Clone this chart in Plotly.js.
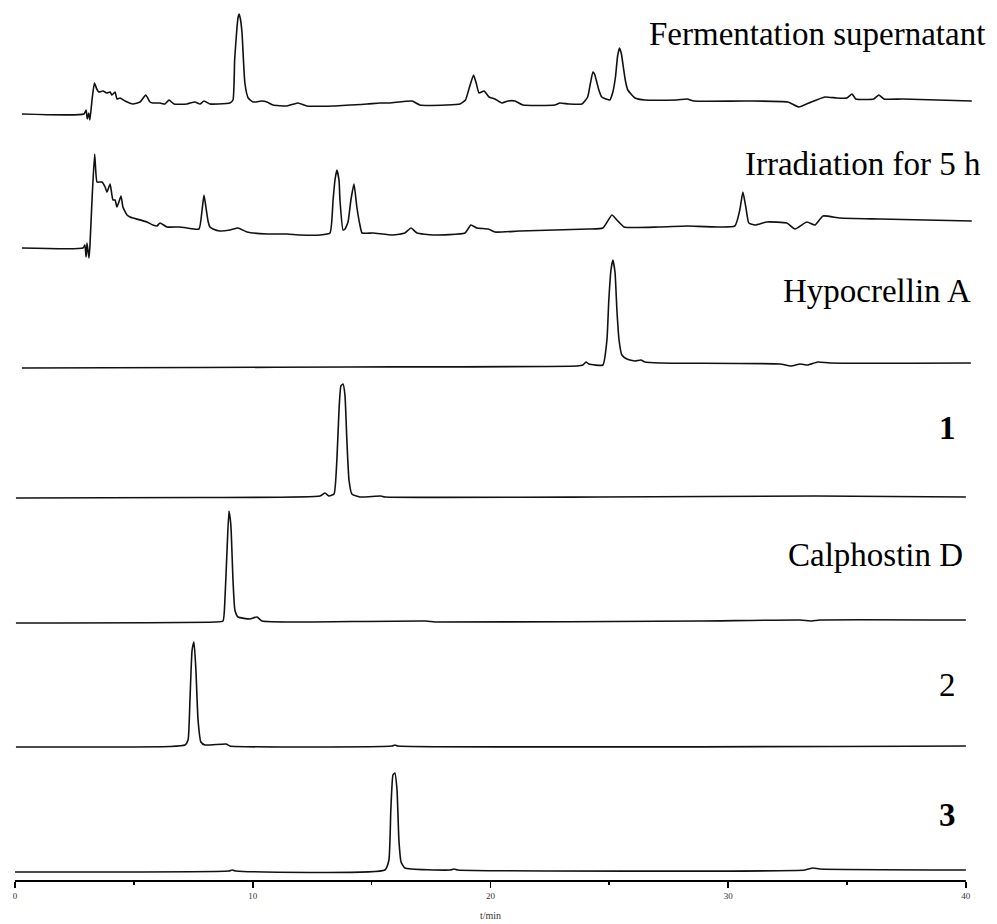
<!DOCTYPE html>
<html>
<head>
<meta charset="utf-8">
<script src="https://cdn.plot.ly/plotly-3.0.1.min.js"></script>
<style>
html,body{margin:0;padding:0;background:#fff;}
#chart{width:997px;height:924px;}
</style>
</head>
<body>
<div id="chart"></div>
<script>
// ---------- DATA (retention time in min, detector signal in arbitrary units) ----------
const seriesLabels = ["Fermentation supernatant", "Irradiation for 5 h", "Hypocrellin A", "1", "Calphostin D", "2", "3"];
const seriesBold = [false, false, false, true, false, false, true];

const fermentTime = [0.29,2.90,2.99,3.04,3.10,3.15,3.24,3.34,3.44,3.53,3.70,3.86,4.00,4.08,4.21,4.29,4.42,4.63,4.96,5.26,5.50,5.68,5.80,6.10,6.31,6.48,6.69,7.23,7.57,7.78,7.95,8.20,8.54,9.04,9.17,9.24,9.32,9.38,9.43,9.49,9.55,9.61,9.67,9.81,10.01,10.39,10.60,10.85,11.44,11.90,12.28,13.38,14.81,15.35,15.77,16.70,17.03,18.17,18.72,18.95,19.12,19.29,19.40,19.52,19.73,19.94,20.19,20.48,20.74,21.03,21.37,22.71,22.92,23.30,23.85,24.09,24.20,24.31,24.38,24.45,24.56,24.68,24.86,25.02,25.15,25.26,25.35,25.43,25.51,25.59,25.68,25.78,26.08,26.50,27.84,28.27,28.56,30.75,32.51,32.98,33.40,34.07,34.57,34.99,35.21,35.37,36.13,36.34,36.55,37.35,40.25];
const fermentSignal = [0,0,4,-5,1,-6,14,31,25,22,23,21,22,19,22,15,16,13,10,12,19,12,11,11,10,14,10,10,12,10,13,10,10,11,14,54,81,96,100,94,81,54,31,16,12,13,12,9,8,11,8,8,10,11,11,13,9,9,10,14,27,39,31,21,23,17,15,11,13,13,9,9,11,10,10,17,30,42,40,34,24,17,15,14,22,37,58,66,60,47,33,24,16,14,14,15,13,13,12,7,11,17,16,16,20,15,15,19,15,15,13];

const irradTime = [0.29,2.86,2.94,2.99,3.03,3.11,3.15,3.24,3.35,3.45,3.58,3.66,3.79,3.87,4.00,4.12,4.21,4.29,4.46,4.54,4.71,4.84,4.96,5.55,5.80,5.97,6.10,6.39,6.94,7.23,7.74,7.87,7.95,8.03,8.12,8.20,8.33,8.62,9.04,9.38,9.76,10.60,11.44,11.99,12.83,13.25,13.38,13.46,13.54,13.63,13.67,13.80,13.88,14.01,14.13,14.26,14.38,14.51,14.60,15.06,15.90,16.40,16.66,16.91,17.58,18.93,19.18,19.43,19.90,20.19,21.24,22.71,24.14,24.73,25.11,25.32,25.62,27.09,28.27,30.28,30.49,30.62,30.75,30.87,31.13,31.63,32.47,32.81,33.31,33.65,33.99,34.70,36.38,40.25];
const irradSignal = [0,0,3,-9,5,-10,1,48,94,66,66,66,61,56,64,48,48,41,52,41,33,31,30,26,23,22,25,21,21,20,19,38,53,41,27,21,19,17,18,20,16,14,14,13,13,15,48,68,78,68,48,18,19,26,48,64,41,23,15,15,13,15,20,15,13,15,23,20,19,16,17,18,19,20,33,28,21,21,22,22,38,56,40,25,23,26,25,19,26,23,32,30,29,27];

const hypoTime = [0.29,7.78,14.09,23.64,23.89,24.02,24.14,24.73,24.90,24.98,25.07,25.15,25.24,25.32,25.41,25.53,25.74,26.08,26.33,26.50,27.13,32.18,32.64,33.02,33.35,33.77,34.28,40.21];
const hypoSignal = [0,0.5,1,2,3,6,4,3,28,68,98,108,96,58,28,13,9,7,8,6,5,4,2,4,3,6,5,5];

const cmpd1Time = [0.04,7.78,12.83,13.04,13.21,13.42,13.54,13.63,13.71,13.80,13.88,13.96,14.05,14.17,14.51,15.39,15.56,24.61,33.65,40.0];
const cmpd1Signal = [0,0.5,2,5,2,4,38,88,112,114,103,58,18,4,1,2,1,1,2,1];

const calphTime = [0.04,8.41,8.75,8.83,8.92,9.00,9.08,9.17,9.25,9.38,9.88,10.18,10.39,11.99,17.29,17.67,28.81,33.02,33.52,33.86,40.0];
const calphSignal = [0,1,2,23,73,112,98,43,13,6,4,6,2,1,2,1,2,3,2,3,3];

const cmpd2Time = [0.04,6.52,7.15,7.28,7.36,7.45,7.53,7.61,7.70,7.82,7.99,8.88,9.04,15.86,15.98,16.11,40.0];
const cmpd2Signal = [0,0.5,2,7,47,97,105,77,27,5,2,3,1,1,2,1,1];

const cmpd3Time = [0,9.00,9.13,9.30,15.56,15.73,15.81,15.90,15.98,16.07,16.15,16.24,16.40,18.30,18.47,18.63,33.23,33.56,33.86,40.0];
const cmpd3Signal = [0,1,2,1,2,12,62,97,99,82,32,10,4,2,3,2,2,4,3,2];

const xTickValues = [0, 10, 20, 30, 40];
const xTickLabels = ["0", "10", "20", "30", "40"];
const xMinorTickValues = [5, 15, 25, 35];
const xAxisTitle = "t/min";

// ---------- LAYOUT (positions / sizes / styles) ----------
const W = 997, H = 924;
const M = {l: 15, r: 24, t: 0, b: 43};
const plotH = H - M.t - M.b;           // 881
const plotW = W - M.l - M.r;           // 958
const xRange = [0, 40.3];
const baselinePx = [114, 248, 368, 498, 623, 747, 872];   // where each trace's zero sits
const labelRightPx = [987, 983, 973, 958, 965, 958, 958];
const labelMidPx = [34, 164, 291, 428, 555, 685, 815];
const serif = "'Liberation Serif', 'Times New Roman', Times, serif";

const times = [fermentTime, irradTime, hypoTime, cmpd1Time, calphTime, cmpd2Time, cmpd3Time];
const signals = [fermentSignal, irradSignal, hypoSignal, cmpd1Signal, calphSignal, cmpd2Signal, cmpd3Signal];

const traces = [];
const layout = {
  width: W, height: H,
  margin: M,
  paper_bgcolor: "#fff", plot_bgcolor: "#fff",
  showlegend: false,
  font: {family: serif},
  xaxis: {
    range: xRange, showline: false, zeroline: false, showgrid: false,
    tickmode: "array", tickvals: xTickValues, ticktext: xTickLabels,
    ticks: "outside", ticklen: 6, tickwidth: 1.6, tickcolor: "#000",
    tickfont: {family: serif, size: 9, color: "#333"},
    minor: {tickmode: "array", tickvals: xMinorTickValues, ticks: "outside", ticklen: 3, tickwidth: 1.6, tickcolor: "#000", showgrid: false},
    fixedrange: true
  },
  shapes: [{type: "line", xref: "x", yref: "paper", x0: 0, x1: 40, y0: 0, y1: 0, line: {color: "#000", width: 2}}],
  annotations: []
};

for (let i = 0; i < times.length; i++) {
  const axName = i === 0 ? "yaxis" : "yaxis" + (i + 1);
  const axRef = i === 0 ? "y" : "y" + (i + 1);
  const b = baselinePx[i] - M.t;
  layout[axName] = {
    range: [b - plotH, b], visible: false, showgrid: false, zeroline: false, fixedrange: true
  };
  if (i > 0) layout[axName].overlaying = "y";
  traces.push({
    type: "scatter", mode: "lines", x: times[i], y: signals[i], yaxis: axRef,
    line: {color: "#111", width: 1.6, shape: "spline", smoothing: 0.45},
    hoverinfo: "skip", cliponaxis: false
  });
  layout.annotations.push({
    xref: "paper", yref: "paper",
    x: (labelRightPx[i] - M.l) / plotW, y: 1 - (labelMidPx[i] - M.t) / plotH,
    xanchor: "right", yanchor: "middle", showarrow: false,
    text: seriesBold[i] ? "<b>" + seriesLabels[i] + "</b>" : seriesLabels[i],
    font: {family: serif, size: 33, color: "#000"}
  });
}

layout.annotations.push({
  xref: "x", yref: "paper", x: 20, y: 1 - (915 - M.t) / plotH,
  xanchor: "center", yanchor: "middle", showarrow: false,
  text: xAxisTitle, font: {family: serif, size: 10, color: "#333"}
});

Plotly.newPlot("chart", traces, layout, {displayModeBar: false, staticPlot: true});
</script>
</body>
</html>
